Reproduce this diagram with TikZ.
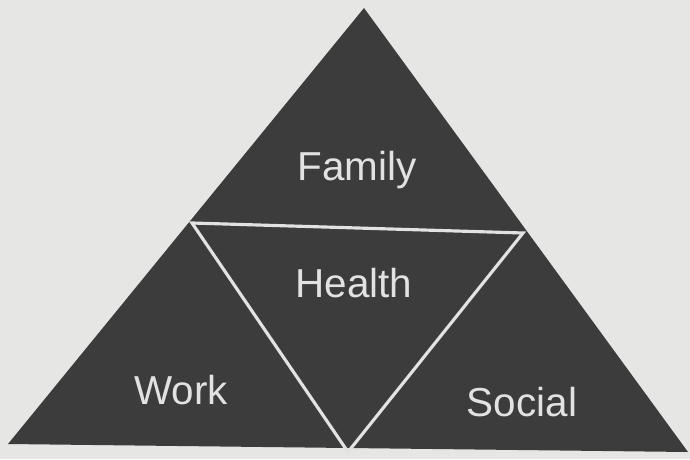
\documentclass[tikz,border=0pt]{standalone}
\usepackage{fontspec}
\setmainfont{Liberation Sans}
\definecolor{paper}{HTML}{E6E6E4}
\definecolor{slate}{HTML}{3C3C3C}
\definecolor{chalk}{HTML}{E2E2E2}
\tikzset{
  area/.style={font=\fontsize{11.5}{13}\selectfont, text=chalk},
  split/.style={draw=chalk, line width=0.9pt}
}
\begin{document}
\begin{tikzpicture}
\fill[paper] (0,0) rectangle (6.9,-4.59);
\coordinate (top) at (3.64,-0.08);
\coordinate (bl) at (0.08,-4.44);
\coordinate (br) at (6.88,-4.52);
\coordinate (ml) at (1.92,-2.23);
\coordinate (mr) at (5.23,-2.33);
\coordinate (mb) at (3.48,-4.52);
\fill[slate] (top) -- (bl) -- (br) -- cycle;
\draw[split] (ml) -- (mr) -- (mb) -- cycle;
\node[area] (family) at (3.57,-1.70) {Family};
\node[area] (health) at (3.54,-2.83) {Health};
\node[area] (work) at (1.81,-3.90) {Work};
\node[area] (social) at (5.22,-4.02) {Social};
\end{tikzpicture}
\end{document}
